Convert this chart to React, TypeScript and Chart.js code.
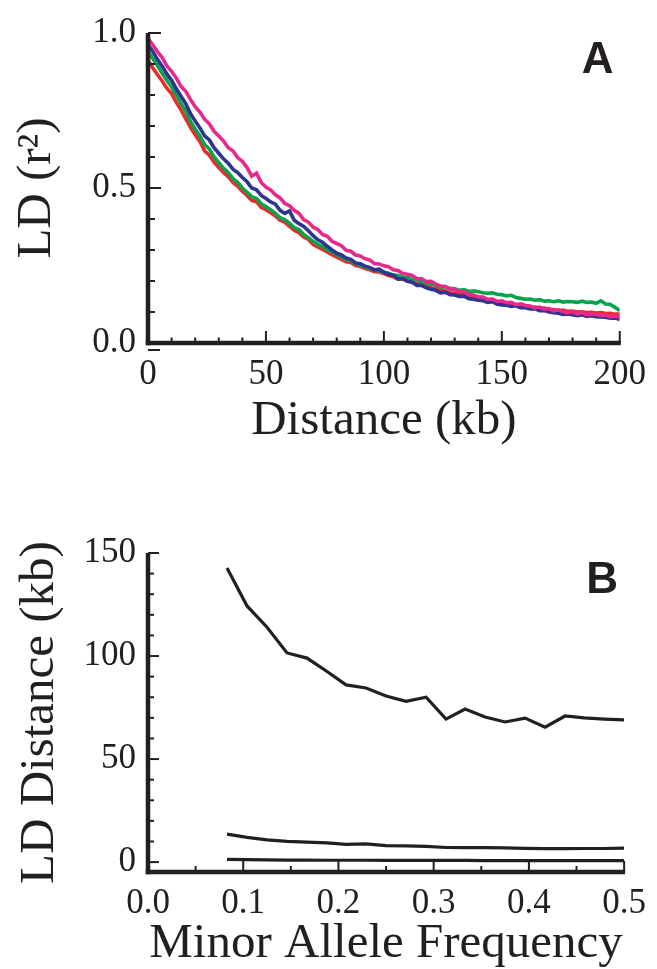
import React, { useEffect, useRef } from "react";
import { Chart, registerables } from "chart.js";

Chart.register(...registerables);

const INK = "#231f20";
const SERIF = "'Liberation Serif', 'Times New Roman', serif";
const SANS = "'Liberation Sans', Arial, sans-serif";

// ---------- Panel A: LD (r^2) decay vs distance ----------
const distanceKb = [
  0, 2, 4, 6, 8, 10, 12, 14, 16, 18,
  20, 22, 24, 26, 28, 30, 32, 34, 36, 38,
  40, 42, 44, 46, 48, 50, 52, 54, 56, 58,
  60, 62, 64, 66, 68, 70, 72, 74, 76, 78,
  80, 82, 84, 86, 88, 90, 92, 94, 96, 98,
  100, 102, 104, 106, 108, 110, 112, 114, 116, 118,
  120, 122, 124, 126, 128, 130, 132, 134, 136, 138,
  140, 142, 144, 146, 148, 150, 152, 154, 156, 158,
  160, 162, 164, 166, 168, 170, 172, 174, 176, 178,
  180, 182, 184, 186, 188, 190, 192, 194, 196, 198,
  200,
];

const ldMagenta = [
  0.982, 0.962, 0.940, 0.921, 0.894, 0.876, 0.855, 0.828, 0.812, 0.786,
  0.762, 0.745, 0.722, 0.707, 0.683, 0.668, 0.652, 0.630, 0.620, 0.598,
  0.586, 0.566, 0.538, 0.548, 0.518, 0.503, 0.494, 0.478, 0.468, 0.450,
  0.443, 0.428, 0.418, 0.398, 0.390, 0.374, 0.366, 0.350, 0.344, 0.328,
  0.321, 0.314, 0.299, 0.296, 0.284, 0.281, 0.272, 0.268, 0.256, 0.255,
  0.249, 0.246, 0.236, 0.234, 0.224, 0.222, 0.218, 0.208, 0.207, 0.198,
  0.199, 0.190, 0.184, 0.182, 0.174, 0.173, 0.166, 0.165, 0.156, 0.155,
  0.149, 0.148, 0.141, 0.142, 0.134, 0.136, 0.130, 0.131, 0.124, 0.126,
  0.121, 0.119, 0.113, 0.116, 0.109, 0.111, 0.104, 0.107, 0.101, 0.097,
  0.101, 0.093, 0.098, 0.091, 0.094, 0.092, 0.089, 0.090, 0.084, 0.087,
  0.083,
];

const ldBlue = [
  0.962, 0.940, 0.915, 0.893, 0.868, 0.848, 0.820, 0.796, 0.772, 0.740,
  0.716, 0.694, 0.668, 0.655, 0.630, 0.612, 0.594, 0.580, 0.561, 0.550,
  0.534, 0.520, 0.500, 0.494, 0.476, 0.466, 0.455, 0.448, 0.428, 0.418,
  0.426, 0.396, 0.385, 0.376, 0.362, 0.346, 0.333, 0.325, 0.312, 0.300,
  0.290, 0.284, 0.274, 0.270, 0.258, 0.256, 0.248, 0.244, 0.236, 0.238,
  0.228, 0.222, 0.219, 0.206, 0.208, 0.199, 0.196, 0.186, 0.186, 0.178,
  0.173, 0.170, 0.162, 0.164, 0.156, 0.155, 0.150, 0.151, 0.143, 0.141,
  0.138, 0.136, 0.131, 0.133, 0.125, 0.123, 0.122, 0.118, 0.120, 0.114,
  0.114, 0.110, 0.111, 0.104, 0.105, 0.100, 0.098, 0.096, 0.092, 0.094,
  0.091, 0.088, 0.091, 0.086, 0.088, 0.085, 0.084, 0.083, 0.080, 0.081,
  0.076,
];

const ldGreen = [
  0.940, 0.918, 0.895, 0.870, 0.848, 0.826, 0.800, 0.772, 0.748, 0.715,
  0.690, 0.668, 0.640, 0.626, 0.600, 0.582, 0.564, 0.550, 0.530, 0.518,
  0.500, 0.486, 0.472, 0.466, 0.449, 0.440, 0.430, 0.418, 0.404, 0.398,
  0.386, 0.372, 0.366, 0.350, 0.340, 0.328, 0.318, 0.312, 0.300, 0.295,
  0.286, 0.278, 0.270, 0.266, 0.256, 0.251, 0.246, 0.240, 0.236, 0.232,
  0.229, 0.225, 0.219, 0.218, 0.212, 0.212, 0.204, 0.205, 0.196, 0.194,
  0.190, 0.186, 0.180, 0.181, 0.176, 0.176, 0.170, 0.172, 0.166, 0.168,
  0.165, 0.162, 0.160, 0.162, 0.157, 0.156, 0.152, 0.154, 0.147, 0.144,
  0.141, 0.142, 0.138, 0.140, 0.135, 0.136, 0.133, 0.136, 0.132, 0.134,
  0.133, 0.131, 0.135, 0.131, 0.132, 0.128, 0.136, 0.126, 0.124, 0.115,
  0.105,
];

const ldRed = [
  0.912, 0.888, 0.866, 0.845, 0.822, 0.805, 0.776, 0.752, 0.724, 0.696,
  0.672, 0.650, 0.620, 0.606, 0.583, 0.566, 0.550, 0.537, 0.518, 0.506,
  0.490, 0.476, 0.460, 0.456, 0.438, 0.430, 0.420, 0.410, 0.396, 0.390,
  0.376, 0.364, 0.356, 0.342, 0.334, 0.318, 0.310, 0.302, 0.294, 0.285,
  0.277, 0.270, 0.262, 0.260, 0.250, 0.247, 0.240, 0.236, 0.230, 0.229,
  0.224, 0.218, 0.214, 0.206, 0.206, 0.200, 0.196, 0.192, 0.186, 0.184,
  0.178, 0.175, 0.170, 0.168, 0.162, 0.161, 0.156, 0.155, 0.150, 0.149,
  0.144, 0.142, 0.138, 0.138, 0.132, 0.131, 0.128, 0.127, 0.122, 0.123,
  0.120, 0.117, 0.116, 0.112, 0.113, 0.109, 0.108, 0.104, 0.106, 0.102,
  0.103, 0.100, 0.101, 0.098, 0.099, 0.097, 0.098, 0.095, 0.096, 0.093,
  0.093,
];

const xTicksA = [0, 50, 100, 150, 200];
const yTicksA = [0, 0.5, 1.0];

// ---------- Panel B: LD distance vs minor allele frequency ----------
const mafBins = [
  0.083, 0.104, 0.125, 0.146, 0.167, 0.188, 0.208, 0.229, 0.25, 0.271,
  0.292, 0.313, 0.333, 0.354, 0.375, 0.396, 0.417, 0.438, 0.458, 0.479, 0.5,
];
const ldDistUpper = [
  142.7, 124.3, 114, 101.5, 99, 92.5, 86, 84.5, 80.6, 78,
  80, 69.4, 74.3, 70.4, 68, 69.9, 65.5, 70.9, 70, 69.4, 69,
];
const ldDistMiddle = [
  13.6, 12.0, 10.8, 10.1, 9.7, 9.3, 8.6, 8.8, 8.0, 7.9,
  7.6, 7.1, 7.0, 7.0, 6.9, 6.7, 6.5, 6.5, 6.6, 6.6, 6.8,
];
const ldDistLower = [
  1.3, 1.2, 1.1, 1.0, 1.0, 0.9, 0.9, 0.9, 0.8, 0.8,
  0.8, 0.8, 0.8, 0.7, 0.7, 0.7, 0.7, 0.7, 0.7, 0.7, 0.7,
];

const xTicksB = [0, 0.1, 0.2, 0.3, 0.4, 0.5];
const yTicksB = [0, 50, 100, 150];

type Deco = {
  xStart: number; xEnd: number; xMinor: number; xMajor: number;
  yStart: number; yEnd: number; yMinor: number; yMajor: number;
  xMajorLen: number; xMinorLen: number; yMajorLen: number; yMinorLen: number;
  label: string; zeroDash: boolean;
};

function isMultiple(v: number, step: number) {
  const r = v / step;
  return Math.abs(r - Math.round(r)) < 1e-6;
}

function decoPlugin(d: Deco) {
  return {
    id: "axisDeco",
    afterDatasetsDraw(chart: any) {
      const { ctx, chartArea: a, scales } = chart;
      const xs = scales.x;
      const ys = scales.y;
      ctx.save();
      ctx.strokeStyle = INK;
      ctx.lineCap = "butt";
      // tick marks (inward)
      ctx.lineWidth = 2;
      const nx = Math.round((d.xEnd - d.xStart) / d.xMinor);
      for (let i = 0; i <= nx; i++) {
        const v = d.xStart + i * d.xMinor;
        const px = xs.getPixelForValue(v);
        const len = isMultiple(v, d.xMajor) ? d.xMajorLen : d.xMinorLen;
        ctx.beginPath();
        ctx.moveTo(px, a.bottom);
        ctx.lineTo(px, a.bottom - len);
        ctx.stroke();
      }
      const ny = Math.round((d.yEnd - d.yStart) / d.yMinor);
      for (let i = 0; i <= ny; i++) {
        const v = d.yStart + i * d.yMinor;
        const py = ys.getPixelForValue(v);
        const len = isMultiple(v, d.yMajor) ? d.yMajorLen : d.yMinorLen;
        ctx.beginPath();
        ctx.moveTo(a.left, py);
        ctx.lineTo(a.left + len, py);
        ctx.stroke();
      }
      if (d.zeroDash) {
        ctx.beginPath();
        ctx.moveTo(a.left, a.bottom + 7);
        ctx.lineTo(a.left + 12, a.bottom + 7);
        ctx.stroke();
      }
      // axis lines
      ctx.lineWidth = 4.5;
      ctx.beginPath();
      ctx.moveTo(a.left, a.top);
      ctx.lineTo(a.left, a.bottom + 2.25);
      ctx.stroke();
      ctx.beginPath();
      ctx.moveTo(a.left - 2.25, a.bottom);
      ctx.lineTo(a.right + 1, a.bottom);
      ctx.stroke();
      // panel letter
      ctx.fillStyle = INK;
      ctx.font = `bold 44px ${SANS}`;
      ctx.textAlign = "center";
      ctx.textBaseline = "alphabetic";
      ctx.fillText(d.label, a.right - 22, a.top + 40);
      ctx.restore();
    },
  };
}

function ChartCanvas({ config, width, height, top }: any) {
  const ref = useRef<HTMLCanvasElement | null>(null);
  useEffect(() => {
    if (!ref.current) return;
    const chart = new Chart(ref.current, config());
    return () => chart.destroy();
  }, []);
  return (
    <canvas
      ref={ref}
      width={width}
      height={height}
      style={{ position: "absolute", left: 0, top, width, height }}
    />
  );
}

function configA() {
  const pts = (ys: number[]) => distanceKb.map((x, i) => ({ x, y: ys[i] }));
  const ds = (label: string, ys: number[], color: string) => ({
    label,
    data: pts(ys),
    borderColor: color,
    backgroundColor: color,
    borderWidth: 3.6,
    pointRadius: 0,
    tension: 0,
    fill: false,
  });
  return {
    type: "line",
    data: {
      datasets: [
        ds("magenta", ldMagenta, "#e8298c"),
        ds("blue", ldBlue, "#2e3490"),
        ds("green", ldGreen, "#0aa24c"),
        ds("red", ldRed, "#ec2a2c"),
      ],
    },
    options: {
      animation: false,
      responsive: false,
      maintainAspectRatio: false,
      layout: { padding: { top: 25, right: 31, left: 0, bottom: 0 } },
      plugins: { legend: { display: false }, tooltip: { enabled: false } },
      scales: {
        x: {
          type: "linear",
          min: 0,
          max: 200,
          afterBuildTicks: (s: any) => { s.ticks = xTicksA.map((value) => ({ value })); },
          afterFit: (s: any) => { s.height = 137; },
          grid: { display: false, drawTicks: false },
          border: { display: false },
          ticks: {
            autoSkip: false, maxRotation: 0, padding: 11, color: INK,
            font: { family: SERIF, size: 35 },
            callback: (v: any) => String(v),
          },
          title: {
            display: true, text: "Distance (kb)", color: INK,
            font: { family: SERIF, size: 49 },
            padding: { top: 0, bottom: 29 },
          },
        },
        y: {
          type: "linear",
          min: 0,
          max: 1,
          afterBuildTicks: (s: any) => { s.ticks = yTicksA.map((value) => ({ value })); },
          afterFit: (s: any) => { s.width = 148; },
          grid: { display: false, drawTicks: false },
          border: { display: false },
          ticks: {
            autoSkip: false, padding: 12, color: INK,
            font: { family: SERIF, size: 35 },
            callback: (v: any) => Number(v).toFixed(1),
          },
          title: {
            display: true, text: "LD (r²)", color: INK,
            font: { family: SERIF, size: 49 },
            padding: { top: 8, bottom: 0 },
          },
        },
      },
    },
    plugins: [
      decoPlugin({
        xStart: 0, xEnd: 200, xMinor: 10, xMajor: 50,
        yStart: 0, yEnd: 1, yMinor: 0.1, yMajor: 0.5,
        xMajorLen: 12, xMinorLen: 5.5, yMajorLen: 13, yMinorLen: 7,
        label: "A", zeroDash: true,
      }),
    ],
  };
}

function configB() {
  const pts = (ys: number[]) => mafBins.map((x, i) => ({ x, y: ys[i] }));
  const ds = (label: string, ys: number[]) => ({
    label,
    data: pts(ys),
    borderColor: INK,
    backgroundColor: INK,
    borderWidth: 3.2,
    pointRadius: 0,
    tension: 0,
    fill: false,
  });
  return {
    type: "line",
    data: {
      datasets: [
        ds("upper", ldDistUpper),
        ds("middle", ldDistMiddle),
        ds("lower", ldDistLower),
      ],
    },
    options: {
      animation: false,
      responsive: false,
      maintainAspectRatio: false,
      layout: { padding: { top: 73, right: 31, left: 0, bottom: 0 } },
      plugins: { legend: { display: false }, tooltip: { enabled: false } },
      scales: {
        x: {
          type: "linear",
          min: 0,
          max: 0.5,
          afterBuildTicks: (s: any) => { s.ticks = xTicksB.map((value) => ({ value })); },
          afterFit: (s: any) => { s.height = 97; },
          grid: { display: false, drawTicks: false },
          border: { display: false },
          ticks: {
            autoSkip: false, maxRotation: 0, padding: 11, color: INK,
            font: { family: SERIF, size: 35 },
            callback: (v: any) => Number(v).toFixed(1),
          },
          title: {
            display: true, text: "Minor Allele Frequency", color: INK,
            font: { family: SERIF, size: 49 },
            padding: { top: 0, bottom: -5 },
          },
        },
        y: {
          type: "linear",
          min: -4.8,
          max: 150,
          afterBuildTicks: (s: any) => { s.ticks = yTicksB.map((value) => ({ value })); },
          afterFit: (s: any) => { s.width = 148; },
          grid: { display: false, drawTicks: false },
          border: { display: false },
          ticks: {
            autoSkip: false, padding: 12, color: INK,
            font: { family: SERIF, size: 35 },
            callback: (v: any) => String(v),
          },
          title: {
            display: true, text: "LD Distance (kb)", color: INK,
            font: { family: SERIF, size: 49 },
            padding: { top: 11, bottom: 0 },
          },
        },
      },
    },
    plugins: [
      decoPlugin({
        xStart: 0, xEnd: 0.5, xMinor: 0.05, xMajor: 0.1,
        yStart: 0, yEnd: 150, yMinor: 10, yMajor: 50,
        xMajorLen: 11, xMinorLen: 6, yMajorLen: 11, yMinorLen: 6,
        label: "B", zeroDash: false,
      }),
    ],
  };
}

export default function App() {
  return (
    <div
      style={{
        position: "absolute", left: 0, top: 0, width: 657, height: 969,
        background: "#ffffff", overflow: "hidden",
      }}
    >
      <ChartCanvas config={configA} width={657} height={480} top={0} />
      <ChartCanvas config={configB} width={657} height={489} top={480} />
    </div>
  );
}
